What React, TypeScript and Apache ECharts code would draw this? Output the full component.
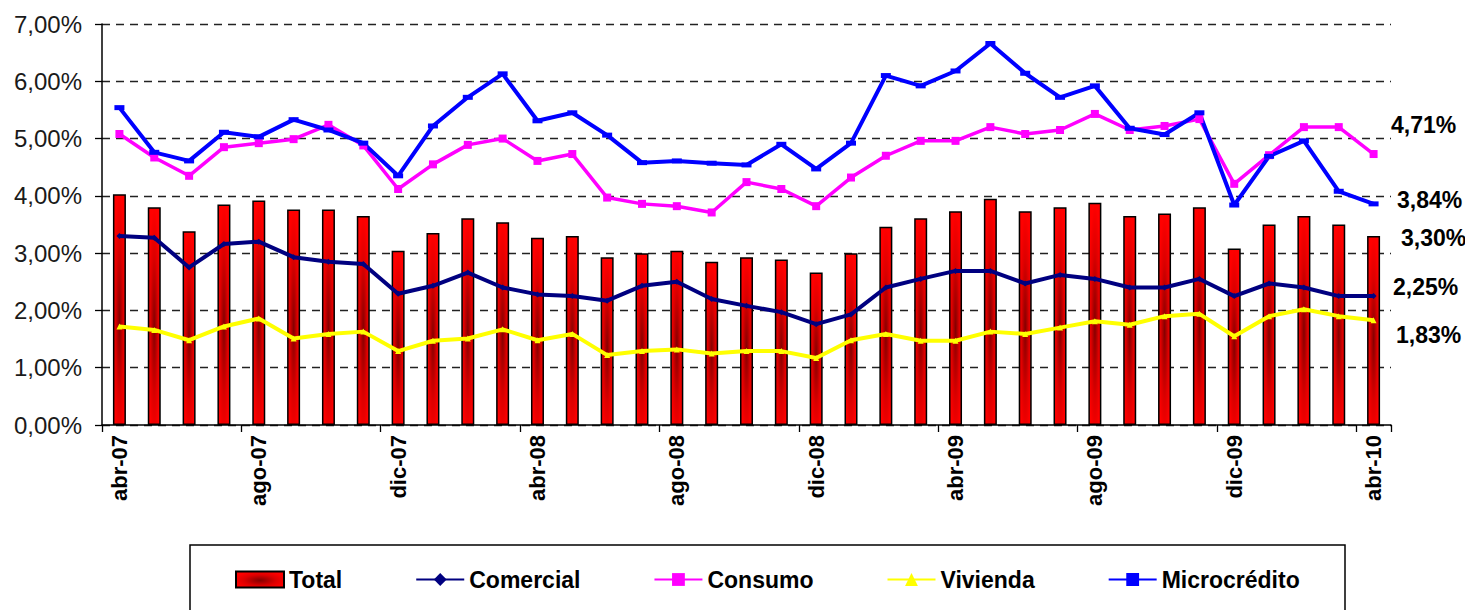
import React, { useEffect, useRef } from "react";
import * as echarts from "echarts";

const months = [
  "abr-07", "may-07", "jun-07", "jul-07", "ago-07", "sep-07", "oct-07", "nov-07",
  "dic-07", "ene-08", "feb-08", "mar-08", "abr-08", "may-08", "jun-08", "jul-08",
  "ago-08", "sep-08", "oct-08", "nov-08", "dic-08", "ene-09", "feb-09", "mar-09",
  "abr-09", "may-09", "jun-09", "jul-09", "ago-09", "sep-09", "oct-09", "nov-09",
  "dic-09", "ene-10", "feb-10", "mar-10", "abr-10",
];

const total = [
  4.03, 3.80, 3.38, 3.85, 3.92, 3.76, 3.76, 3.65, 3.04, 3.35, 3.61, 3.54, 3.27,
  3.30, 2.93, 3.00, 3.04, 2.85, 2.93, 2.89, 2.66, 3.00, 3.46, 3.61, 3.73, 3.95,
  3.73, 3.80, 3.88, 3.65, 3.69, 3.80, 3.08, 3.50, 3.65, 3.50, 3.30,
];

const comercial = [
  3.30, 3.27, 2.75, 3.16, 3.20, 2.93, 2.85, 2.81, 2.29, 2.43, 2.66, 2.40, 2.28,
  2.25, 2.17, 2.43, 2.50, 2.20, 2.08, 1.97, 1.76, 1.93, 2.40, 2.55, 2.69, 2.69,
  2.47, 2.62, 2.55, 2.40, 2.40, 2.55, 2.25, 2.47, 2.40, 2.25, 2.25,
];

const consumo = [
  5.08, 4.67, 4.35, 4.85, 4.92, 4.99, 5.24, 4.88, 4.12, 4.55, 4.89, 5.00, 4.61,
  4.73, 3.97, 3.86, 3.82, 3.71, 4.24, 4.12, 3.82, 4.32, 4.70, 4.96, 4.96, 5.20,
  5.08, 5.15, 5.43, 5.15, 5.22, 5.34, 4.21, 4.71, 5.20, 5.20, 4.73,
];

const vivienda = [
  1.72, 1.66, 1.48, 1.72, 1.86, 1.51, 1.59, 1.63, 1.29, 1.47, 1.51, 1.67, 1.48,
  1.59, 1.22, 1.29, 1.32, 1.25, 1.29, 1.29, 1.17, 1.48, 1.59, 1.47, 1.47, 1.63,
  1.59, 1.70, 1.81, 1.75, 1.90, 1.94, 1.55, 1.90, 2.02, 1.90, 1.83,
];

const microcredito = [
  5.54, 4.76, 4.61, 5.11, 5.03, 5.33, 5.15, 4.92, 4.35, 5.22, 5.72, 6.13, 5.31,
  5.45, 5.06, 4.58, 4.61, 4.57, 4.54, 4.90, 4.47, 4.92, 6.10, 5.92, 6.18, 6.66,
  6.14, 5.72, 5.92, 5.18, 5.07, 5.45, 3.84, 4.69, 4.96, 4.08, 3.86,
];

const endLabels = ["4,71%", "3,84%", "3,30%", "2,25%", "1,83%"];
const endLabelPos = [
  [1391, 125],
  [1397, 200],
  [1401, 238],
  [1393, 287],
  [1396, 335],
];

const FONT = "'Liberation Sans', Arial, sans-serif";

export default function App() {
  const ref = useRef<HTMLDivElement>(null);

  useEffect(() => {
    document.body.style.margin = "0";
    const chart = echarts.init(ref.current!, null, { renderer: "svg" });

    const barFill = new echarts.graphic.RadialGradient(0.5, 0.55, 0.55, [
      { offset: 0, color: "#850000" },
      { offset: 0.6, color: "#dd0000" },
      { offset: 1, color: "#ff0000" },
    ]);

    const lineSeries = (
      name: string,
      data: number[],
      color: string,
      symbol: string,
      symbolSize: any,
      width: number
    ) => ({
      name,
      type: "line",
      data,
      symbol,
      symbolSize,
      showSymbol: true,
      lineStyle: { color, width },
      itemStyle: { color, borderWidth: 0 },
      z: 3,
    });

    chart.setOption({
      animation: false,
      textStyle: { fontFamily: FONT },
      grid: { left: 102, right: 74, top: 24, bottom: 185, containLabel: false },
      xAxis: {
        type: "category",
        data: months,
        boundaryGap: true,
        axisLine: { lineStyle: { color: "#000", width: 1.5 } },
        axisTick: { show: true, interval: 3, length: 7, lineStyle: { color: "#000", width: 1.3 } },
        axisLabel: {
          interval: 3,
          rotate: 90,
          margin: 10,
          fontSize: 22,
          fontWeight: "bold",
          color: "#000",
          fontFamily: FONT,
        },
      },
      yAxis: {
        type: "value",
        min: 0,
        max: 7,
        interval: 1,
        axisLine: { show: true, lineStyle: { color: "#000", width: 1.5 } },
        axisTick: { show: true, length: 7, lineStyle: { color: "#000", width: 1.3 } },
        splitLine: { show: true, lineStyle: { color: "#222", width: 1.3, type: [8, 6] } },
        axisLabel: {
          margin: 20,
          fontSize: 24,
          color: "#1a1a1a",
          fontFamily: FONT,
          formatter: (v: number) => v.toFixed(2).replace(".", ",") + "%",
        },
      },
      legend: {
        left: 230,
        top: 563,
        itemWidth: 48,
        itemHeight: 16,
        itemGap: 73,
        textStyle: { fontSize: 23, fontWeight: "bold", color: "#000", fontFamily: FONT },
        data: [
          { name: "Total", icon: "rect" },
          "Comercial",
          "Consumo",
          "Vivienda",
          "Microcrédito",
        ],
      },
      graphic: [
        {
          type: "rect",
          shape: { x: 190, y: 545, width: 1155, height: 90 },
          style: { fill: "none", stroke: "#000", lineWidth: 1.5 },
          silent: true,
        },
        ...endLabels.map((t, i) => ({
          type: "text",
          x: endLabelPos[i][0],
          y: endLabelPos[i][1],
          style: {
            text: t,
            fontSize: 23,
            fontWeight: "bold",
            fill: "#000",
            fontFamily: FONT,
            textVerticalAlign: "middle",
            verticalAlign: "middle",
          },
        })),
      ],
      series: [
        {
          name: "Total",
          type: "bar",
          data: total,
          barWidth: 13,
          itemStyle: { color: barFill, borderColor: "#000", borderWidth: 1.5 },
          z: 2,
        },
        lineSeries("Comercial", comercial, "#000080", "diamond", 6, 4),
        lineSeries("Consumo", consumo, "#ff00ff", "rect", 8, 3.5),
        lineSeries("Vivienda", vivienda, "#ffff00", "triangle", 6, 4),
        lineSeries("Microcrédito", microcredito, "#0000ff", "rect", [10, 5], 4),
      ],
    });

    return () => chart.dispose();
  }, []);

  return (
    <div
      ref={ref}
      style={{ position: "absolute", left: 0, top: 0, width: 1465, height: 610, background: "#fff" }}
    />
  );
}
